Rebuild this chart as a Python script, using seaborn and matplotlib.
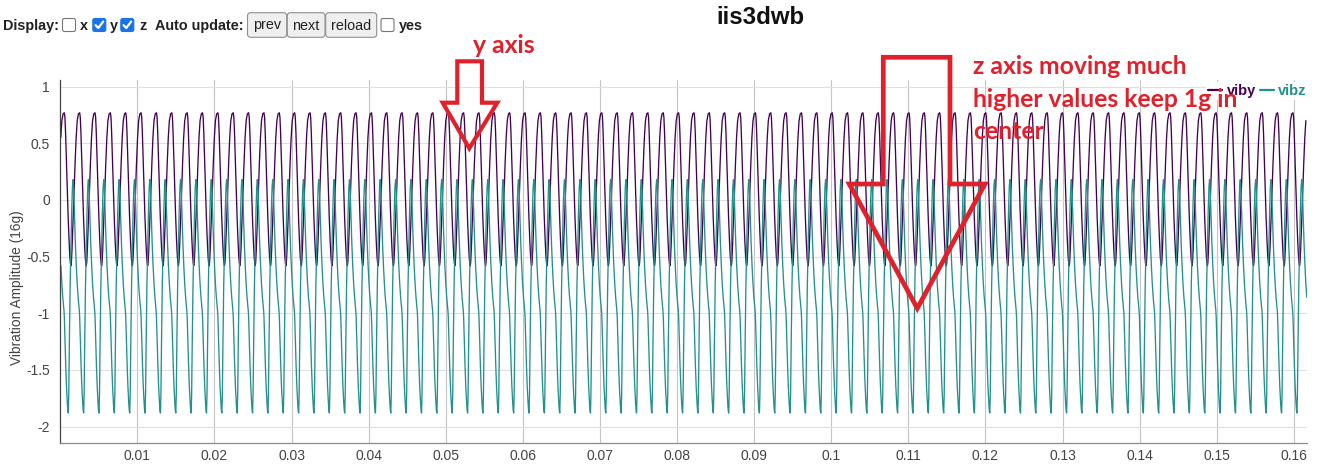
import numpy as np
import pandas as pd
import matplotlib
matplotlib.use("Agg")
import matplotlib.pyplot as plt
import seaborn as sns
from matplotlib.patches import Polygon, FancyBboxPatch

W, H = 1321, 466

# one period of each trace (phase 0 = viby peak)
viby_phase = [0.00, 0.04, 0.08, 0.13, 0.19, 0.25, 0.31, 0.36, 0.40, 0.43,
              0.46, 0.50, 0.56, 0.63, 0.70, 0.77, 0.84, 0.92]
viby_cycle = [0.77, 0.73, 0.60, 0.38, 0.10, -0.15, -0.36, -0.50, -0.56, -0.58,
              -0.55, -0.44, -0.22, 0.05, 0.32, 0.55, 0.70, 0.76]
vibz_phase = [0.20, 0.23, 0.26, 0.29, 0.33, 0.38, 0.43, 0.48, 0.53, 0.57,
              0.61, 0.66, 0.72, 0.78, 0.84, 0.90, 0.95, 0.98, 1.00, 1.04,
              1.09, 1.14]
vibz_cycle = [-1.80, -1.86, -1.88, -1.72, -1.25, -0.75, -0.40, -0.10, 0.12, 0.18,
              0.10, -0.12, -0.38, -0.58, -0.74, -0.86, -0.93, -0.98, -1.03, -1.22,
              -1.45, -1.64]
period_s = 0.001992
first_peak_s = 0.00052
n_cycles = 82
x_max = 0.1617

x_ticks = [0.01, 0.02, 0.03, 0.04, 0.05, 0.06, 0.07, 0.08, 0.09, 0.10,
           0.11, 0.12, 0.13, 0.14, 0.15, 0.16]
x_labels = ["0.01", "0.02", "0.03", "0.04", "0.05", "0.06", "0.07", "0.08",
            "0.09", "0.1", "0.11", "0.12", "0.13", "0.14", "0.15", "0.16"]
y_ticks = [1, 0.5, 0, -0.5, -1, -1.5, -2]
y_labels = ["1", "0.5", "0", "-0.5", "-1", "-1.5", "-2"]

series_names = ["viby", "vibz"]
series_colors = ["#440154", "#21918c"]
RED = "#e0202a"

rows = []
for name, phases, vals in [("viby", viby_phase, viby_cycle),
                           ("vibz", vibz_phase, vibz_cycle)]:
    for k in range(-2, n_cycles):
        for p, v in zip(phases, vals):
            t = first_peak_s + (k + p) * period_s
            if 0 <= t <= x_max:
                rows.append((name, t, v))
df = pd.DataFrame(rows, columns=["axis", "t", "value"])

sns.set_theme(style="white")
plt.rcParams["font.family"] = ["Liberation Sans", "DejaVu Sans"]

fig = plt.figure(figsize=(W / 100, H / 100), dpi=100, facecolor="white")
ax_l, ax_r, ax_t, ax_b = 60.3, 1307, 80, 442.7
ax = fig.add_axes([ax_l / W, 1 - ax_b / H, (ax_r - ax_l) / W, (ax_b - ax_t) / H])

sns.lineplot(data=df, x="t", y="value", hue="axis", hue_order=series_names,
             palette=series_colors, estimator=None, sort=True, linewidth=0.95, ax=ax)

ax.set_xlim(0, x_max)
ax.set_ylim(-2.142, 1.059)
ax.set_xticks(x_ticks)
ax.set_xticklabels(x_labels)
ax.set_yticks(y_ticks)
ax.set_yticklabels(y_labels)
ax.tick_params(axis="both", length=0, labelsize=10, labelcolor="#444444")
ax.tick_params(axis="y", pad=7.4)
ax.tick_params(axis="x", pad=4.5)
ax.grid(axis="x", color="#c4c4c4", linewidth=0.8)
ax.grid(axis="y", color="#e0e0e0", linewidth=0.8)
ax.set_axisbelow(True)
ax.set_xlabel("")
ax.set_ylabel("")
for side in ["top", "right"]:
    ax.spines[side].set_visible(False)
ax.spines["left"].set_color("#444444")
ax.spines["left"].set_linewidth(0.9)
ax.spines["bottom"].set_color("#8a8a8a")
ax.spines["bottom"].set_linewidth(0.9)

leg = ax.legend(ncol=2, loc="center right", bbox_to_anchor=(1309 / W, 1 - 90.7 / H),
                bbox_transform=fig.transFigure, frameon=True, facecolor="white",
                edgecolor="none", framealpha=1, handlelength=0.95, handletextpad=0.3,
                columnspacing=0.3, borderpad=0.15, borderaxespad=0,
                prop={"weight": "bold", "size": 10.5})
for txt, c in zip(leg.get_texts(), series_colors):
    txt.set_color(c)
for ln in leg.get_lines():
    ln.set_linewidth(1.6)

# overlay in screenshot pixel coordinates for the page controls and red notes
ov = fig.add_axes([0, 0, 1, 1], zorder=5)
ov.set_xlim(0, W)
ov.set_ylim(H, 0)
ov.axis("off")
ov.patch.set_alpha(0)

ov.text(17, 288, "Vibration Amplitude (16g)", rotation=90, ha="center", va="center",
        fontsize=9.9, color="#444444")
ov.text(760, 18, "iis3dwb", ha="center", va="center", fontsize=17.3,
        fontweight="bold", color="#111111")

# page controls
ctrl = dict(fontsize=10.4, fontweight="bold", color="#222222", va="baseline", ha="left")
ov.text(3.5, 30, "Display:", **ctrl)
ov.text(80, 30, "x", **ctrl)
ov.text(110, 30, "y", **ctrl)
ov.text(139.3, 30, "z", **ctrl)
ov.text(155, 30, "Auto update:", **ctrl)
ov.text(399.3, 30, "yes", **ctrl)


def checkbox(x, checked):
    if checked:
        ov.add_patch(FancyBboxPatch((x, 18.5), 13, 13, boxstyle="round,pad=0,rounding_size=2",
                                    facecolor="#1a73e8", edgecolor="#1a73e8", lw=0.8))
        ov.plot([x + 2.8, x + 5.5, x + 10.4], [25.2, 28.0, 21.5], color="white",
                lw=1.6, solid_capstyle="round", solid_joinstyle="round")
    else:
        ov.add_patch(FancyBboxPatch((x, 18.5), 13, 13, boxstyle="round,pad=0,rounding_size=2",
                                    facecolor="white", edgecolor="#767676", lw=0.8))


checkbox(62.5, False)
checkbox(92.8, True)
checkbox(120.8, True)
checkbox(381, False)

for bx0, bx1, lab in [(247.5, 286.7, "prev"), (287.3, 325, "next"), (325.7, 376.7, "reload")]:
    ov.add_patch(FancyBboxPatch((bx0, 12.7), bx1 - bx0, 24.6,
                                boxstyle="round,pad=0,rounding_size=3",
                                facecolor="#efefef", edgecolor="#8f8f8f", lw=0.8))
    ov.text((bx0 + bx1) / 2, 29.5, lab, ha="center", va="baseline", fontsize=10.4,
            color="#222222")

# red annotation arrows
arrow_y = [(457.3, 61.3), (482, 61.3), (482, 102.7), (497.3, 102.7), (469.3, 148.3),
           (442.7, 102.7), (457.3, 102.7)]
arrow_z = [(883.3, 57.3), (950, 57.3), (950, 184), (985, 184), (917.3, 308.3),
           (849.3, 184), (883.3, 184)]
ov.add_patch(Polygon(arrow_y, closed=True, fill=False, edgecolor=RED, lw=3.0,
                     joinstyle="miter"))
ov.add_patch(Polygon(arrow_z, closed=True, fill=False, edgecolor=RED, lw=3.4,
                     joinstyle="miter"))

note = dict(fontsize=17.8, fontweight="bold", color=RED, va="baseline", ha="left",
            family=["Lato", "DejaVu Sans"])
ov.text(473, 53.3, "y axis", **note)
ov.text(973, 74.3, "z axis moving much", **note)
ov.text(973, 106.7, "higher values keep 1g in", **note)
ov.text(973, 139.3, "center", **note)

fig.savefig("out.png", dpi=100, facecolor="white")
